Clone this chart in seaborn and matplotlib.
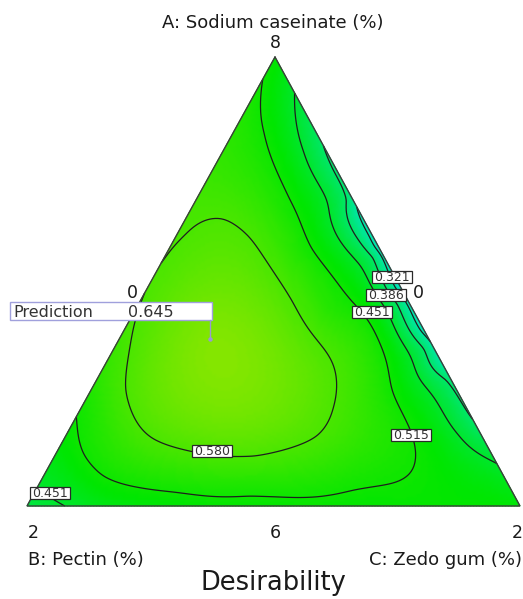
import numpy as np
import matplotlib
matplotlib.use("Agg")
import matplotlib.pyplot as plt
import matplotlib.tri as mtri
from matplotlib.patches import Rectangle
import seaborn as sns

# Mixture compositions (pseudo-component fractions of A and B, C = 1 - A - B)
# and the overall desirability at each composition.
frac_A = [
    1.0, 0.0, 0.0,
    0.92, 0.804, 0.67, 0.58, 0.50, 0.40, 0.325, 0.19, 0.095,
    0.0, 0.0, 0.0, 0.0, 0.0,
    0.036, 0.229, 0.35, 0.46, 0.55, 0.62, 0.75, 0.85, 0.942,
    0.653, 0.599, 0.459, 0.347, 0.2205, 0.147, 0.1025, 0.107, 0.147, 0.258, 0.621,
    0.831, 0.6815, 0.570, 0.4365, 0.258, 0.169, 0.1247, 0.0646, 0.0423, 0.0312,
    0.0423, 0.0535, 0.1136, 0.180,
    0.793, 0.644, 0.532, 0.281, 0.169,
    0.75, 0.6815, 0.5546, 0.45, 0.35, 0.281,
    0.60, 0.50, 0.40,
    0.373,
]
frac_B = [
    0.0, 1.0, 0.0,
    0.0, 0.0, 0.0, 0.0, 0.0, 0.0, 0.0, 0.0, 0.0,
    0.90, 0.70, 0.50, 0.30, 0.12,
    0.964, 0.771, 0.65, 0.54, 0.45, 0.38, 0.25, 0.15, 0.058,
    0.274, 0.244, 0.232, 0.223, 0.276, 0.333, 0.487, 0.555, 0.677, 0.683, 0.367,
    0.100, 0.134, 0.149, 0.162, 0.141, 0.133, 0.147, 0.2053, 0.3177, 0.532,
    0.7497, 0.825, 0.836, 0.807,
    0.038, 0.072, 0.074, 0.077, 0.031,
    0.007, 0.012, 0.0225, 0.025, 0.02, 0.01,
    0.007, 0.009, 0.007,
    0.443,
]
desirability = [
    0.50, 0.43, 0.49,
    0.451, 0.386, 0.321, 0.29, 0.27, 0.29, 0.321, 0.386, 0.451,
    0.451, 0.49, 0.50, 0.50, 0.495,
    0.451, 0.515, 0.56, 0.578, 0.578, 0.572, 0.555, 0.535, 0.515,
    0.580, 0.580, 0.580, 0.580, 0.580, 0.580, 0.580, 0.580, 0.580, 0.580, 0.580,
    0.515, 0.515, 0.515, 0.515, 0.515, 0.515, 0.515, 0.515, 0.515, 0.515,
    0.515, 0.515, 0.515, 0.515,
    0.451, 0.451, 0.451, 0.451, 0.451,
    0.386, 0.386, 0.386, 0.386, 0.386, 0.386,
    0.321, 0.321, 0.321,
    0.645,
]

contour_levels = [0.321, 0.386, 0.451, 0.515, 0.580]

prediction_label = "Prediction"
prediction_A = 0.373
prediction_B = 0.443
prediction_value = 0.645

axis_titles = ["A: Sodium caseinate (%)", "B: Pectin (%)", "C: Zedo gum (%)"]
vertex_ticks = ["8", "2", "2"]          # at the A, B and C vertices
edge_ticks = ["0", "0", "6"]            # left side, right side, base
chart_title = "Desirability"

# ---------------------------------------------------------------- style
sns.set_theme(style="white")
plt.rcParams["font.family"] = ["DejaVu Sans"]

cmap = sns.blend_palette(["#0000e6", "#00e6e6", "#00e600", "#e6e600", "#e60000"],
                         n_colors=256, as_cmap=True)

# ------------------------------------------------------- ternary layout
VERT_A = (275.0, 57.0)
VERT_B = (27.0, 506.0)
VERT_C = (520.0, 506.0)


def to_xy(a, b):
    a = np.asarray(a, float)
    b = np.asarray(b, float)
    c = 1.0 - a - b
    x = a * VERT_A[0] + b * VERT_B[0] + c * VERT_C[0]
    y = a * VERT_A[1] + b * VERT_B[1] + c * VERT_C[1]
    return x, y


# ------------------------------------- smooth response surface (thin plate)
def tps_kernel(r):
    with np.errstate(divide="ignore", invalid="ignore"):
        k = r ** 2 * np.log(r)
    return np.where(r > 0, k, 0.0)


def tps_fit(px, py, z, smooth):
    n = len(z)
    d = np.hypot(px[:, None] - px[None, :], py[:, None] - py[None, :])
    q = np.column_stack([np.ones(n), px, py])
    m = np.zeros((n + 3, n + 3))
    m[:n, :n] = tps_kernel(d) + np.diag(smooth)
    m[:n, n:] = q
    m[n:, :n] = q.T
    sol = np.linalg.solve(m, np.concatenate([z, np.zeros(3)]))
    return sol[:n], sol[n:]


def tps_eval(px, py, w, v, gx, gy):
    d = np.hypot(gx[:, None] - px[None, :], gy[:, None] - py[None, :])
    return tps_kernel(d) @ w + v[0] + v[1] * gx + v[2] * gy


SCALE = 450.0
sx, sy = to_xy(frac_A, frac_B)
# the thin layer along the A-C side is held more tightly than the rest
smooth = np.where(np.asarray(frac_B) <= 0.03, 3e-4, 9e-3)
w, v = tps_fit(sx / SCALE, sy / SCALE, np.asarray(desirability, float), smooth)

n = 170
ii, jj = np.meshgrid(np.arange(n + 1), np.arange(n + 1), indexing="ij")
keep = ii + jj <= n
ga, gb = ii[keep] / n, jj[keep] / n
gx, gy = to_xy(ga, gb)
gz = tps_eval(sx / SCALE, sy / SCALE, w, v, gx / SCALE, gy / SCALE)
tri = mtri.Triangulation(gx, gy)

# ----------------------------------------------------------------- figure
fig = plt.figure(figsize=(5.23, 5.99), dpi=100)
ax = fig.add_axes([0, 0, 1, 1])
ax.set_xlim(0, 523)
ax.set_ylim(599, 0)
ax.axis("off")

ax.tripcolor(tri, gz, shading="gouraud", cmap=cmap, vmin=0.0, vmax=1.0)
ax.tricontour(tri, gz, levels=contour_levels, colors="#1e1e1e", linewidths=0.9)

ox = [VERT_A[0], VERT_B[0], VERT_C[0], VERT_A[0]]
oy = [VERT_A[1], VERT_B[1], VERT_C[1], VERT_A[1]]
ax.plot(ox, oy, color="#3c3c3c", lw=1.0, solid_joinstyle="miter")

# contour value tags
tag_spots = [(0, 392, 277), (1, 386, 295), (2, 372, 312),
             (3, 411, 435), (4, 212, 451), (2, 50, 493)]
for idx, cx, cy in tag_spots:
    ax.add_patch(Rectangle((cx - 20, cy - 6), 40, 12, facecolor="white",
                           edgecolor="#2a2a2a", lw=0.9, zorder=5))
    ax.text(cx, cy + 4.3, f"{contour_levels[idx]:.3f}", ha="center", va="baseline",
            fontsize=9, color="#333333", zorder=6)

# prediction flag
px_, py_ = to_xy(prediction_A, prediction_B)
px_, py_ = float(px_), float(py_)
ax.add_patch(Rectangle((10, py_ - 37), px_ + 2 - 10, 18, facecolor="white",
                       edgecolor="#a0a0dc", lw=1.0, zorder=5))
ax.text(13, py_ - 22, prediction_label, ha="left", va="baseline",
        fontsize=11.5, color="#333333", zorder=6)
ax.text(128, py_ - 22, f"{prediction_value:.3f}", ha="left", va="baseline",
        fontsize=11.5, color="#333333", zorder=6)
ax.plot([px_, px_], [py_ - 19, py_], color="#9a9ad0", lw=1.0, zorder=5)
ax.plot([px_], [py_], marker="o", ms=2.2, color="#9a9ad0", zorder=5)

# axis titles and tick values
txt = dict(color="#1a1a1a", va="baseline")
ax.text(273, 28, axis_titles[0], ha="center", fontsize=13, **txt)
ax.text(275, 48, vertex_ticks[0], ha="center", fontsize=12.5, **txt)
ax.text(33, 538, vertex_ticks[1], ha="center", fontsize=12.5, **txt)
ax.text(517, 538, vertex_ticks[2], ha="center", fontsize=12.5, **txt)
ax.text(132, 298, edge_ticks[0], ha="center", fontsize=12.5, **txt)
ax.text(418, 298, edge_ticks[1], ha="center", fontsize=12.5, **txt)
ax.text(275, 538, edge_ticks[2], ha="center", fontsize=12.5, **txt)
ax.text(28, 565, axis_titles[1], ha="left", fontsize=13, **txt)
ax.text(522, 565, axis_titles[2], ha="right", fontsize=13, **txt)
ax.text(273, 590, chart_title, ha="center", fontsize=18.5, **txt)

fig.savefig("out.png", dpi=100)
